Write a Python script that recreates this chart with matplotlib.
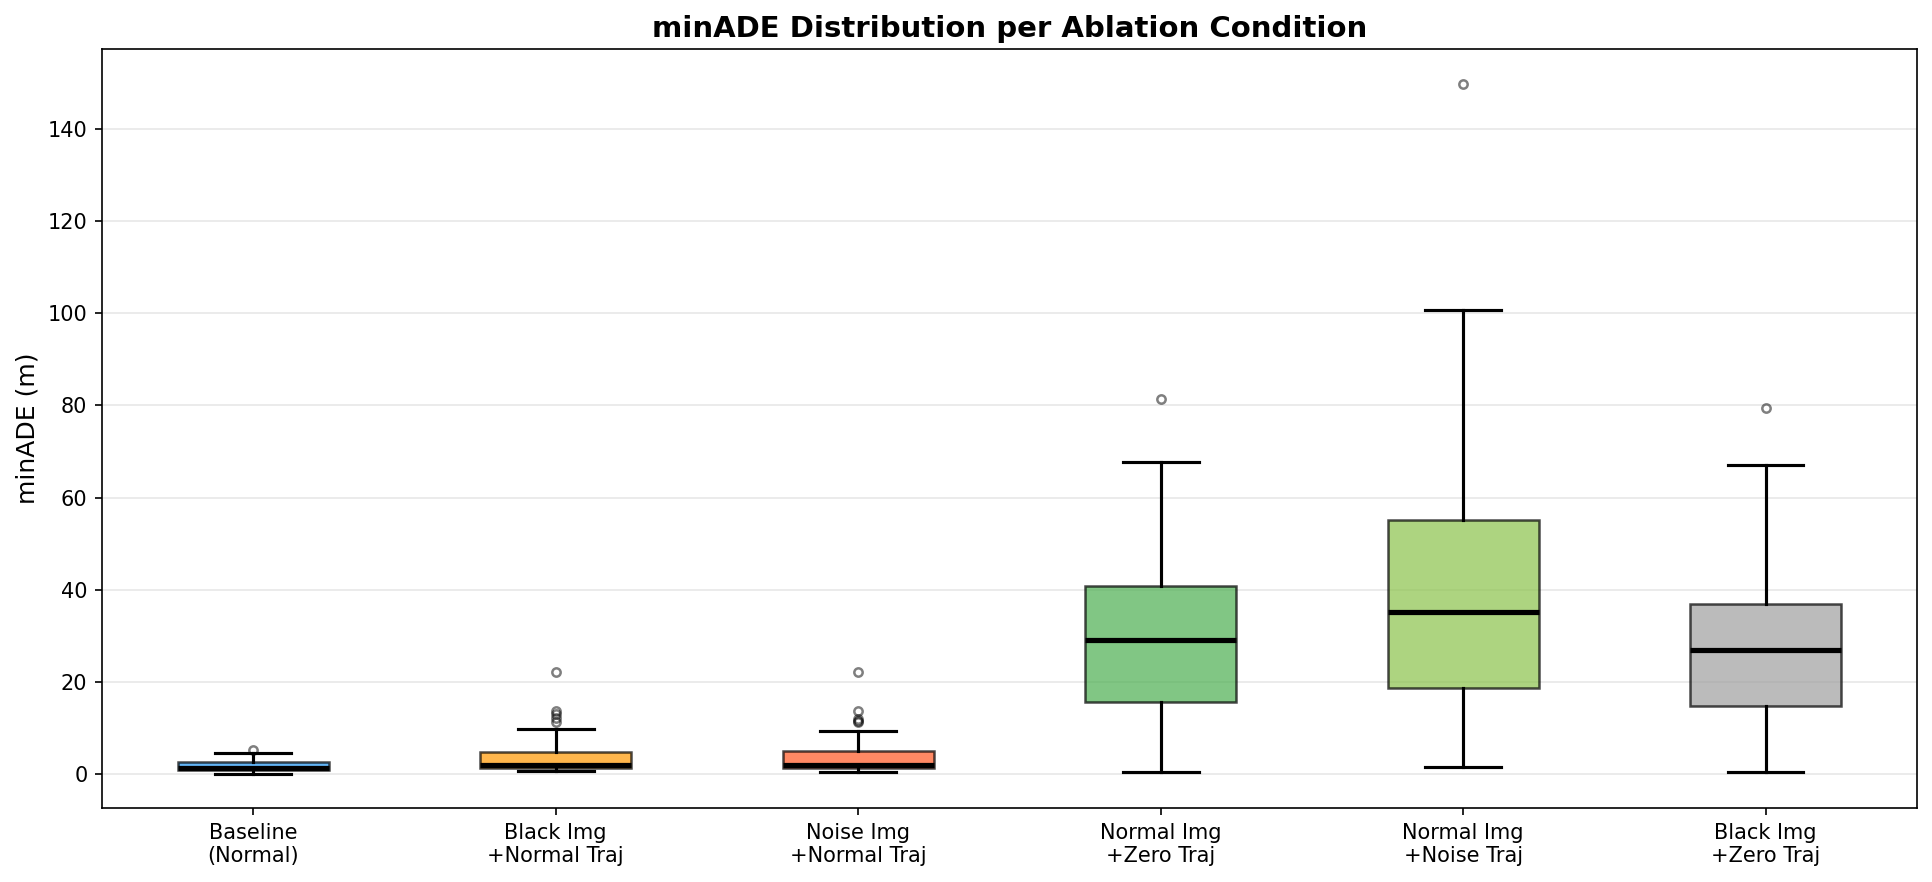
import matplotlib
matplotlib.use("Agg")
import matplotlib.pyplot as plt

# box statistics (minADE, metres)
conditions = ["Baseline\n(Normal)", "Black Img\n+Normal Traj", "Noise Img\n+Normal Traj",
              "Normal Img\n+Zero Traj", "Normal Img\n+Noise Traj", "Black Img\n+Zero Traj"]
whislo = [0.2, 0.65, 0.45, 0.6, 1.7, 0.6]
q1 = [1.0, 1.45, 1.45, 15.6, 18.8, 14.8]
med = [1.5, 2.0, 2.0, 29.1, 35.2, 27.0]
q3 = [2.65, 4.9, 5.1, 40.9, 55.1, 37.0]
whishi = [4.7, 9.9, 9.5, 67.8, 100.7, 67.0]
fliers = [
    [5.3],
    [11.3, 12.3, 13.0, 13.8, 22.1],
    [11.3, 11.6, 12.0, 13.8, 22.1],
    [81.3],
    [149.8],
    [79.4],
]
colors = ['#2196F3', '#FF9800', '#FF5722', '#4CAF50', '#8BC34A', '#9E9E9E']

stats = []
for i in range(len(conditions)):
    stats.append({
        'whislo': whislo[i], 'q1': q1[i], 'med': med[i], 'q3': q3[i],
        'whishi': whishi[i], 'fliers': fliers[i], 'label': conditions[i],
    })

fig, ax = plt.subplots(figsize=(12.88, 5.88), dpi=150)
fig.subplots_adjust(left=0.0528, right=0.9922, top=0.9444, bottom=0.0839)

bp = ax.bxp(stats, widths=0.5, patch_artist=True,
            medianprops=dict(color='black', linewidth=2.5),
            whiskerprops=dict(color='black', linewidth=1.5),
            capprops=dict(color='black', linewidth=1.5),
            flierprops=dict(marker='o', markerfacecolor='none', markeredgecolor='black',
                            markeredgewidth=1.2, markersize=4, alpha=0.5))

for patch, c in zip(bp['boxes'], colors):
    patch.set_facecolor(c)
    patch.set_edgecolor('black')
    patch.set_linewidth(1.2)
    patch.set_alpha(0.7)

ax.set_ylabel("minADE (m)", fontsize=12)
ax.set_title("minADE Distribution per Ablation Condition", fontsize=14, fontweight='bold')
ax.tick_params(axis='both', labelsize=10)
ax.grid(True, axis='y', alpha=0.3)
ax.set_axisbelow(True)

fig.savefig("out.png", dpi=150)
